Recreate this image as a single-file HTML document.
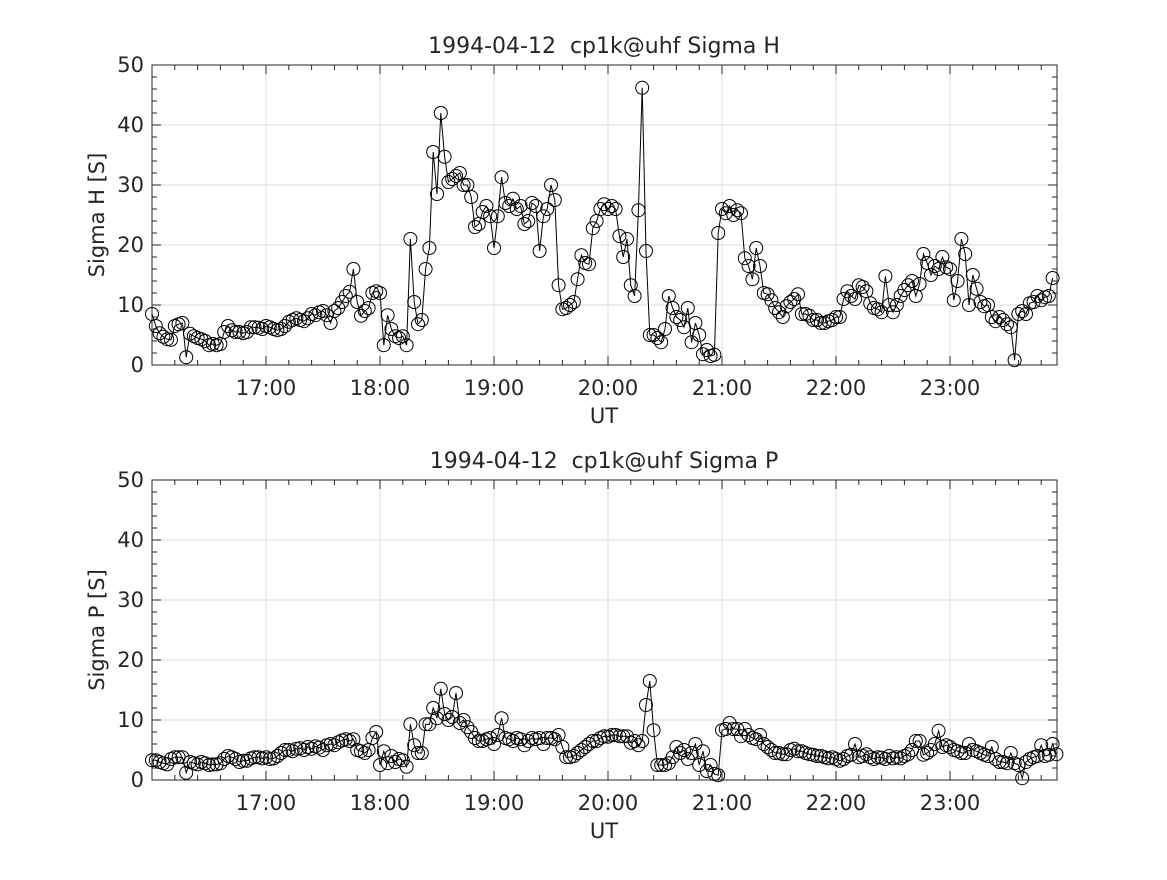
<!DOCTYPE html>
<html><head><meta charset="utf-8"><style>
body{margin:0;background:#fff;}
svg text{font-family:"DejaVu Sans","Liberation Sans",sans-serif;fill:#262626;white-space:pre;}
</style></head><body>
<svg id="chart" width="1167" height="875" xmlns="http://www.w3.org/2000/svg"></svg>
<script>
const tickLabels=["17:00","18:00","19:00","20:00","21:00","22:00","23:00"];
const tickMinutes=[60,120,180,240,300,360,420];
const yTicks=[0,10,20,30,40,50];
const stepMinutes=2;
const sigmaH=[8.5,6.5,5.3,4.7,4.3,4.2,6.5,6.8,7,1.3,5.2,4.8,4.5,4.3,4,3.3,3.5,3.3,3.5,5.5,6.5,5.8,5.5,5.5,5.3,5.5,6.3,6.3,6.2,6.0,
6.5,6.3,6,5.8,6,6.5,7.2,7.5,7.8,7.5,7.3,7.8,8.5,8.3,8.8,9,8.3,7,9,9.5,10.5,11.5,12.2,16,10.5,8.2,9,9.5,12,12.3,
12,3.3,8.3,6,4.8,4.5,4.8,3.3,21,10.5,6.8,7.5,16,19.5,35.5,28.5,42,34.7,30.5,31,31.5,32,30,30,28,23,23.5,25.5,26.5,24.8,
19.5,24.8,31.3,27,26.5,27.7,26,26.5,23.5,24,27,26.5,19,24.8,26,30,27.5,13.3,9.3,9.5,10,10.5,14.3,18.3,17,16.8,22.8,24,26,26.8,
26,26.5,26,21.5,18,21,13.3,11.5,25.8,46.2,19,5,5,4.5,3.8,6,11.5,9.5,8,7.5,6.3,9.5,3.8,7,5,1.8,2.5,1.5,1.7,22,
26,25.3,26.5,25,25.8,25.3,17.8,16.5,14.3,19.5,16.5,12,11.8,10.8,9.5,8.8,8,9.8,10.5,11,11.8,8.5,8.5,8.2,7.5,7.5,7,7,7.3,7.5,
8,8,11,12.3,11.5,11,13.3,13,12.3,10.3,9.5,9.3,8.8,14.8,10,8.8,10,11.5,12.5,13.3,14,11.5,13.5,18.5,17,15,16.5,16,18,16.3,
16,10.8,14,21,18.5,10,15,12.7,10.5,9.8,10,8,7.3,8,7.5,6.8,6.3,0.8,8.5,9,8.5,10.3,10.5,11.5,10.8,11.3,11.5,14.5];
const sigmaP=[3.3,3.3,3,2.8,2.6,3.5,3.8,3.8,3.8,1.2,3,2.8,2.6,3,2.8,2.5,2.6,2.6,2.8,3.5,4,3.8,3.5,3,3.2,3.2,3.6,3.8,3.8,3.6,
3.8,3.5,3.6,4,4.5,5,5,4.8,5.2,5.3,5,5.5,5.2,5.6,5.4,5,5.8,6,5.8,6.3,6.6,6.8,6.5,6.8,5,4.8,4.5,5,7,8,
2.5,4.8,2.8,4,3,3.5,3.3,2.2,9.3,5.8,4.5,4.5,9.3,9.3,12,10.3,15.2,11,10,10.5,14.5,9.5,10,8.8,8,7,6.5,6.5,6.8,7,
6,7.5,10.3,7,6.8,6.5,7,6.8,5.8,6.5,7,6.8,7,6,7,7,6.8,7.5,5.5,3.8,3.8,4,4.5,5,5.5,6,6.5,6.5,7,7.3,
7.2,7.5,7.5,7.3,7.3,7.3,6.2,6.5,5.8,6.5,12.5,16.5,8.3,2.5,2.5,2.5,2.8,3.8,5.5,4.5,5,3.5,4.5,6,2.5,4.8,1.5,2.5,1,0.8,
8.3,8.5,9.5,8.5,8.5,7.3,8.5,7.5,7,6.8,7.5,6,5.5,5,4.5,4.5,4.3,4.3,5,5.2,4.8,4.8,4.5,4.3,4.2,4,4,3.8,3.6,3.8,
3.5,3.2,3.5,4,4.2,6,3.8,4,4.3,3.8,3.5,3.8,3.7,3.5,4,3.6,3.8,3.6,4,4.3,5,6.5,6.5,4.2,4.5,5,6,8.2,5.5,5.8,
5.5,5,4.8,4.5,4.5,6,5,4.8,4.5,4.2,4,5.5,3.5,3,3,2.8,4.5,2.8,2.5,0.3,3,3.5,3.8,4,5.8,4,4.2,6,4.3];

const NS="http://www.w3.org/2000/svg";
const svg=document.getElementById('chart');
function mk(tag,attrs,parent){const e=document.createElementNS(NS,tag);for(const k in attrs)e.setAttribute(k,attrs[k]);(parent||svg).appendChild(e);return e;}
const X0=152,X1=1057,XMAX=(1057-152)/114*60;
function xs(m){return X0+m/XMAX*(X1-X0);}

function panel(top,data,title,ylabel,key){
  const bot=top+300;
  function ys(v){return bot-v/50*300;}
  const g=mk('g',{});
  
  
  tickMinutes.forEach(m=>{const l=mk('line',{x1:xs(m),x2:xs(m),y1:top,y2:bot,stroke:'#dedede','stroke-width':1},g);});
  yTicks.forEach(v=>{const l=mk('line',{x1:X0,x2:X1,y1:ys(v),y2:ys(v),stroke:'#dedede','stroke-width':1},g);});
  for(let m=12;m<XMAX;m+=12){const major=m%60===0;const L=major?9:5;
    mk('line',{x1:xs(m),x2:xs(m),y1:bot,y2:bot-L,stroke:'#262626'},g);
    mk('line',{x1:xs(m),x2:xs(m),y1:top,y2:top+L,stroke:'#262626'},g);}
  for(let v=2;v<50;v+=2){const major=v%10===0;const L=major?9:5;
    mk('line',{x1:X0,x2:X0+L,y1:ys(v),y2:ys(v),stroke:'#262626'},g);
    mk('line',{x1:X1,x2:X1-L,y1:ys(v),y2:ys(v),stroke:'#262626'},g);}
  const box=mk('rect',{x:X0,y:top,width:X1-X0,height:300,fill:'none',stroke:'#262626','stroke-width':1},g);
  
  tickLabels.forEach((t,i)=>{const e=mk('text',{x:xs(tickMinutes[i]),y:bot+30,'text-anchor':'middle','font-size':21},g);e.textContent=t;});
  yTicks.forEach(v=>{const e=mk('text',{x:X0-8,y:ys(v)+7,'text-anchor':'end','font-size':21},g);e.textContent=v;});
  const xt=mk('text',{x:604,y:bot+58,'text-anchor':'middle','font-size':21},g);xt.textContent='UT';
  const yt=mk('text',{x:0,y:0,'text-anchor':'middle','font-size':21,transform:`translate(104,${top+150}) rotate(-90)`},g);yt.textContent=ylabel;
  const tt=mk('text',{x:604,y:top-12,'text-anchor':'middle','font-size':22},g);tt.textContent=title;
  const pts=data.map((v,i)=>xs(i*stepMinutes).toFixed(1)+','+ys(v).toFixed(1)).join(' ');
  const pl=mk('polyline',{points:pts,fill:'none',stroke:'#000','stroke-width':1},g);
  
  data.forEach((v,i)=>{const c=mk('circle',{cx:xs(i*stepMinutes),cy:ys(v),r:6.5,fill:'none',stroke:'#000','stroke-width':1},g);
    });
}
panel(65,sigmaH,'1994-04-12  cp1k@uhf Sigma H','Sigma H [S]','sigma-h');
panel(480,sigmaP,'1994-04-12  cp1k@uhf Sigma P','Sigma P [S]','sigma-p');
</script>
</body></html>
